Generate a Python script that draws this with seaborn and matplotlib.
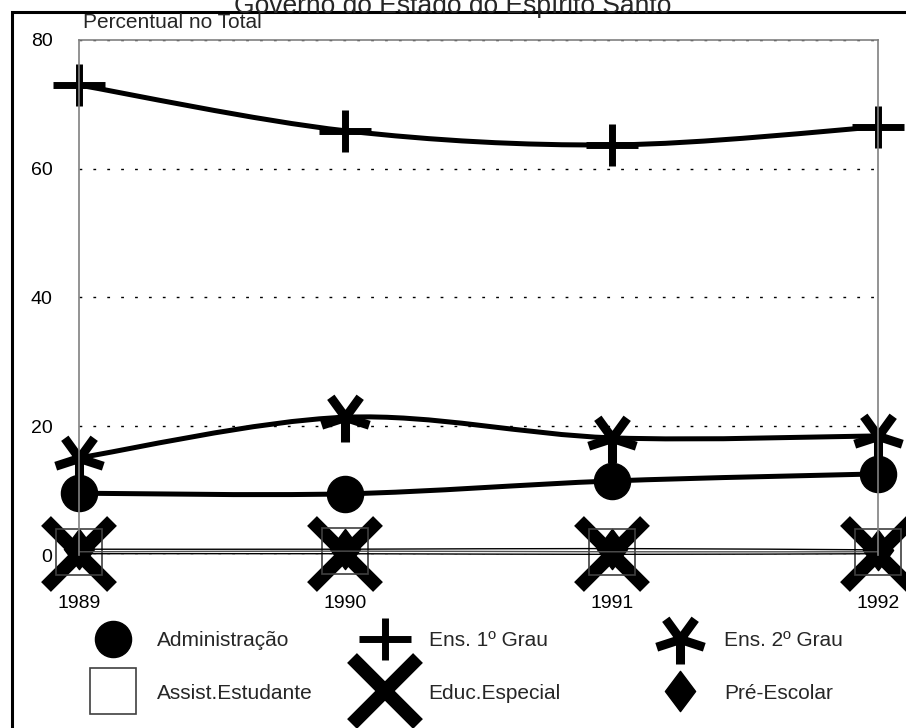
import numpy as np
import matplotlib
matplotlib.use('Agg')
import matplotlib.pyplot as plt
from matplotlib.path import Path
from matplotlib.patches import PathPatch, Rectangle
from matplotlib.lines import Line2D
import seaborn as sns

# dados (percentual no total)
anos = [1989, 1990, 1991, 1992]
administracao = [9.6, 9.5, 11.5, 12.6]
ens_1_grau = [73.0, 65.9, 63.7, 66.5]
ens_2_grau = [15.1, 21.4, 18.2, 18.5]
assist_estudante = [0.5, 0.6, 0.5, 0.5]
educ_especial = [0.2, 0.2, 0.1, 0.2]
pre_escolar = [0.9, 0.9, 1.0, 0.8]
yticks = [0, 20, 40, 60, 80]

sns.set_theme(style='white')
plt.rcParams['font.family'] = ['Liberation Sans', 'DejaVu Sans']

# marcadores especiais
ang = np.deg2rad([54, 126, 198, 270, 342])
v, c = [], []
for a in ang:
    v += [(0, 0), (np.cos(a), np.sin(a))]
    c += [Path.MOVETO, Path.LINETO]
asterisco = Path(v, c)
cruz = Path([(-1, 0), (1, 0), (0, -0.82), (0, 0.82)],
            [Path.MOVETO, Path.LINETO, Path.MOVETO, Path.LINETO])
losango = Path([(0, 1), (0.75, 0), (0, -1), (-0.75, 0), (0, 1)],
               [Path.MOVETO, Path.LINETO, Path.LINETO, Path.LINETO, Path.CLOSEPOLY])

series = [
    ('Administração', administracao, dict(marker='o', markersize=26, mfc='black', mec='black', mew=1), 3.6, 5),
    ('Assist.Estudante', assist_estudante, dict(marker='s', markersize=33, mfc='none', mec='#404040', mew=1.2), 1.0, 7),
    ('Ens. 1º Grau', ens_1_grau, dict(marker=cruz, markersize=37, mfc='none', mec='black', mew=5), 3.6, 5),
    ('Educ.Especial', educ_especial, dict(marker='x', markersize=47, mec='black', mew=10), 1.0, 6),
    ('Ens. 2º Grau', ens_2_grau, dict(marker=asterisco, markersize=36, mfc='none', mec='black', mew=6.5), 3.6, 5),
    ('Pré-Escolar', pre_escolar, dict(marker=losango, markersize=29, mfc='black', mec='black', mew=1), 1.0, 5.5),
]


def curva(xs, ys):
    # curva suave (catmull-rom) passando pelos pontos
    x = np.asarray(xs, float)
    y = np.asarray(ys, float)
    px = np.r_[x[0], x, x[-1]]
    py = np.r_[y[0], y, y[-1]]
    verts = [(x[0], y[0])]
    codes = [Path.MOVETO]
    for i in range(1, len(x)):
        c1 = (px[i] + (px[i + 1] - px[i - 1]) / 6, py[i] + (py[i + 1] - py[i - 1]) / 6)
        c2 = (px[i + 1] - (px[i + 2] - px[i]) / 6, py[i + 1] - (py[i + 2] - py[i]) / 6)
        verts += [c1, c2, (x[i], y[i])]
        codes += [Path.CURVE4] * 3
    return Path(verts, codes)


fig = plt.figure(figsize=(9.06, 7.28), dpi=100)
ax = fig.add_axes([79 / 906, 1 - 555 / 728, (878 - 79) / 906, (555 - 40) / 728])

for nome, vals, est, lw, z in series:
    sns.lineplot(x=anos, y=vals, ax=ax, color='black', linestyle='none',
                 clip_on=False, zorder=z, **est)
    cor = '#505050' if nome == 'Assist.Estudante' else 'black'
    ax.add_patch(PathPatch(curva(anos, vals), fill=False, ec=cor, lw=lw,
                           capstyle='round', joinstyle='round',
                           zorder=4 if lw > 2 else 8))

ax.set_xlim(1989, 1992)
ax.set_ylim(0, 80)
ax.set_xticks(anos)
ax.set_xticklabels([str(a) for a in anos])
ax.set_yticks(yticks)
ax.set_xlabel('')
ax.set_ylabel('')
ax.tick_params(axis='both', length=0, labelsize=14, colors='black')
ax.tick_params(axis='y', pad=19)
ax.tick_params(axis='x', pad=29)
ax.yaxis.grid(True, color='black', linestyle=(0, (2, 8)), lw=1)
ax.xaxis.grid(False)
for lado in ['left', 'right', 'top']:
    ax.spines[lado].set_color('#808080')
    ax.spines[lado].set_linewidth(1.2)
    ax.spines[lado].set_zorder(10)
ax.spines['bottom'].set_visible(False)

fig.text(83 / 906, 1 - 22 / 728, 'Percentual no Total', fontsize=15, va='center')
fig.text(0.5, 1 - 13 / 728, 'Governo do Estado do Espírito Santo', fontsize=19,
         ha='center', va='baseline')
fig.add_artist(Rectangle((12 / 906, -0.5), 2, 0.5 + 1 - 12 / 728, fill=False,
                         ec='black', lw=2.2, transform=fig.transFigure))

# legenda em três colunas
for col, x0 in enumerate([88, 360, 655]):
    hs, ls = [], []
    for nome, vals, est, lw, z in series[2 * col:2 * col + 2]:
        e = dict(est)
        if e['marker'] == 's':
            e['mfc'] = 'white'
        hs.append(Line2D([], [], linestyle='none', color='black', **e))
        ls.append(nome)
    fig.legend(hs, ls, loc='center left', bbox_to_anchor=(x0 / 906, 1 - 667 / 728),
               frameon=False, fontsize=15, handlelength=2.4, handletextpad=0.9,
               labelspacing=1.6, borderpad=0, borderaxespad=0)

fig.savefig('out.png', dpi=100)
